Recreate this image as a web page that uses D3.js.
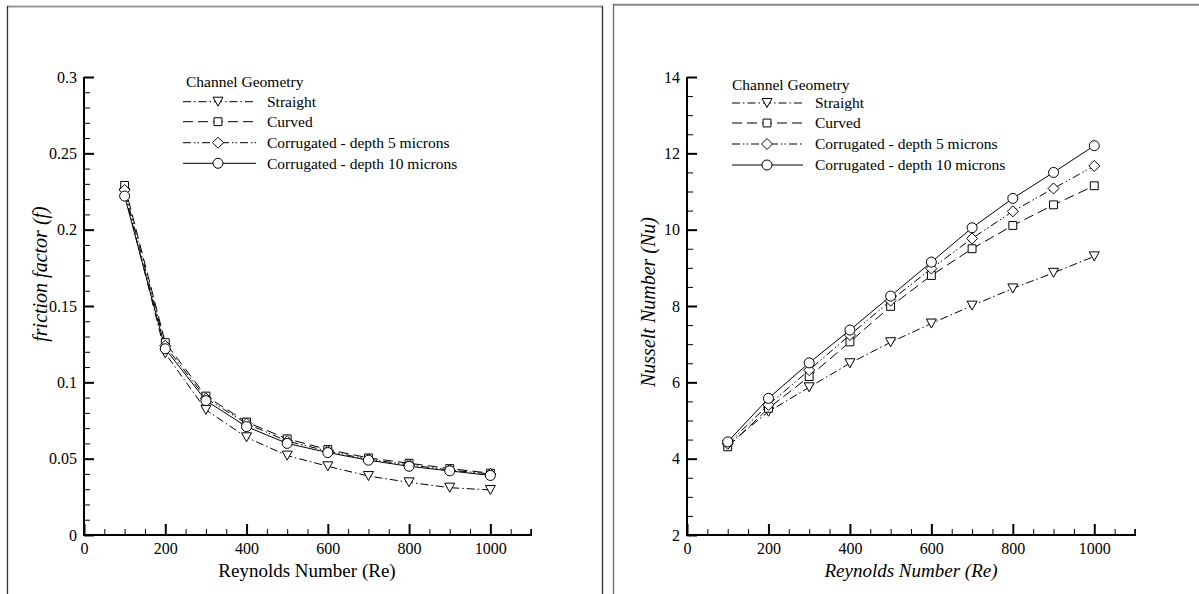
<!DOCTYPE html>
<html><head><meta charset="utf-8">
<script src="https://cdn.jsdelivr.net/npm/d3@7"></script>
<style>
html,body{margin:0;padding:0;background:#fff;}
svg{display:block;}
</style></head>
<body>
<svg id="chart" width="1199" height="594"></svg>
<script>
// ---------------- data ----------------
const reynolds = [100, 200, 300, 400, 500, 600, 700, 800, 900, 1000];
const seriesNames = ["Straight", "Curved", "Corrugated - depth 5 microns", "Corrugated - depth 10 microns"];
const legendTitle = "Channel Geometry";

const fStraight = [0.224, 0.119, 0.082, 0.064, 0.052, 0.045, 0.0386, 0.0345, 0.031, 0.0295];
const fCurved   = [0.229, 0.126, 0.091, 0.074, 0.063, 0.056, 0.0505, 0.047, 0.0435, 0.0405];
const fCorr5    = [0.226, 0.124, 0.0895, 0.073, 0.0615, 0.055, 0.0495, 0.046, 0.0425, 0.040];
const fCorr10   = [0.222, 0.122, 0.088, 0.071, 0.060, 0.054, 0.049, 0.045, 0.042, 0.039];

const nuStraight = [4.36, 5.23, 5.87, 6.50, 7.05, 7.54, 8.01, 8.46, 8.87, 9.30];
const nuCurved   = [4.31, 5.32, 6.15, 7.06, 7.99, 8.80, 9.50, 10.11, 10.65, 11.15];
const nuCorr5    = [4.39, 5.41, 6.32, 7.24, 8.14, 8.98, 9.77, 10.48, 11.08, 11.67];
const nuCorr10   = [4.44, 5.58, 6.51, 7.37, 8.26, 9.15, 10.05, 10.82, 11.50, 12.20];

const xMajorTicks = [0, 200, 400, 600, 800, 1000];
const xTickLabels = ["0", "200", "400", "600", "800", "1000"];
const fMajorTicks = [0, 0.05, 0.1, 0.15, 0.2, 0.25, 0.3];
const fTickLabels = ["0", "0.05", "0.1", "0.15", "0.2", "0.25", "0.3"];
const nuMajorTicks = [2, 4, 6, 8, 10, 12, 14];
const nuTickLabels = ["2", "4", "6", "8", "10", "12", "14"];

// ---------------- styles ----------------
const FONT = "'Liberation Serif', 'Times New Roman', serif";
const dashes = ["8,3,1.5,3", "10,5", "8,3,1.5,2,1.5,3", null];
const markers = ["triDown", "square", "diamond", "circle"];

const svg = d3.select("#chart");

// frames
svg.append("line").attr("x1", 7).attr("x2", 603).attr("y1", 6.5).attr("y2", 6.5).attr("stroke", "#999").attr("stroke-width", 2);
svg.append("line").attr("x1", 7.5).attr("x2", 7.5).attr("y1", 6).attr("y2", 594).attr("stroke", "#333").attr("stroke-width", 1.3);
svg.append("line").attr("x1", 602.5).attr("x2", 602.5).attr("y1", 6).attr("y2", 594).attr("stroke", "#333").attr("stroke-width", 1.3);
svg.append("line").attr("x1", 613).attr("x2", 1199).attr("y1", 4.8).attr("y2", 4.8).attr("stroke", "#888").attr("stroke-width", 2);
svg.append("line").attr("x1", 613.5).attr("x2", 613.5).attr("y1", 4).attr("y2", 594).attr("stroke", "#666").attr("stroke-width", 1.3);

function markerPath(type, size) {
  const s = size;
  if (type === "circle") return d3.symbol().type(d3.symbolCircle).size(Math.PI * s * s / 4)();
  if (type === "square") return d3.symbol().type(d3.symbolSquare).size(s * s * 0.62)();
  if (type === "diamond") {
    const h = s * 0.55;
    return `M0,${-h}L${h},0L0,${h}L${-h},0Z`;
  }
  if (type === "triDown") {
    const w = s * 0.5, h = s * 0.45;
    return `M${-w},${-h}L${w},${-h}L0,${h}Z`;
  }
}

function drawPanel(cfg) {
  const g = svg.append("g");
  const x = d3.scaleLinear().domain([0, 1100]).range([cfg.x0, cfg.x1]);
  const y = d3.scaleLinear().domain(cfg.yDomain).range([535, 77]);

  // minor ticks
  const xMinor = d3.range(0, 1101, 50).filter(v => v % 200 !== 0);
  g.append("g").attr("transform", `translate(0,${y.range()[0]})`)
    .call(d3.axisBottom(x).tickValues(xMinor).tickSize(-6).tickFormat(""))
    .call(a => a.select(".domain").remove())
    .selectAll("line").attr("stroke", "#000").attr("stroke-width", 1);
  const yMinor = d3.range(cfg.yDomain[0], cfg.yDomain[1] + 1e-9, cfg.minorStep)
    .filter(v => !cfg.majorTicks.some(m => Math.abs(m - v) < 1e-9));
  g.append("g").attr("transform", `translate(${cfg.x0},0)`)
    .call(d3.axisLeft(y).tickValues(yMinor).tickSize(-6).tickFormat(""))
    .call(a => a.select(".domain").remove())
    .selectAll("line").attr("stroke", "#000").attr("stroke-width", 1);

  // major ticks + labels
  const gx = g.append("g").attr("transform", `translate(0,${y.range()[0]})`)
    .call(d3.axisBottom(x).tickValues(xMajorTicks).tickSize(-11).tickPadding(8).tickSizeOuter(0)
      .tickFormat((d, i) => xTickLabels[i]));
  gx.select(".domain").remove();
  gx.selectAll("line").attr("stroke", "#000").attr("stroke-width", 2);
  gx.selectAll("text").attr("font-family", FONT).attr("font-size", 16).attr("fill", "#000");

  const gy = g.append("g").attr("transform", `translate(${cfg.x0},0)`)
    .call(d3.axisLeft(y).tickValues(cfg.majorTicks).tickSize(-10).tickPadding(7)
      .tickFormat((d, i) => cfg.tickLabels[i]));
  gy.select(".domain").remove();
  gy.selectAll("line").attr("stroke", "#000").attr("stroke-width", 2);
  gy.selectAll("text").attr("font-family", FONT).attr("font-size", 16).attr("fill", "#000");

  // spines
  g.append("line").attr("x1", cfg.x0).attr("x2", cfg.x1 + 1).attr("y1", y.range()[0]).attr("y2", y.range()[0])
    .attr("stroke", "#000").attr("stroke-width", 2);
  g.append("line").attr("x1", cfg.x0).attr("x2", cfg.x0).attr("y1", y.range()[0] + 1).attr("y2", y.range()[1])
    .attr("stroke", "#000").attr("stroke-width", 2);
  g.append("line").attr("x1", cfg.x1).attr("x2", cfg.x1).attr("y1", y.range()[0]).attr("y2", y.range()[0] - 6)
    .attr("stroke", "#000").attr("stroke-width", 1.5);

  // axis titles
  g.append("text").attr("x", cfg.xTitleX).attr("y", 577).attr("text-anchor", "middle")
    .attr("font-family", FONT).attr("font-size", 19).attr("font-style", cfg.xTitleItalic ? "italic" : "normal")
    .text("Reynolds Number (Re)");
  g.append("text").attr("transform", `translate(${cfg.yTitleX},${cfg.yTitleY}) rotate(-90)`)
    .attr("text-anchor", "middle").attr("dy", "0.35em")
    .attr("font-family", FONT).attr("font-size", 20).attr("font-style", "italic")
    .text(cfg.yTitle);

  // series
  const line = d3.line().x((d, i) => x(reynolds[i])).y(d => y(d));
  cfg.series.forEach((vals, si) => {
    g.append("path").attr("d", line(vals)).attr("fill", "none").attr("stroke", "#000")
      .attr("stroke-width", 1).attr("stroke-dasharray", dashes[si]);
  });
  cfg.series.forEach((vals, si) => {
    g.selectAll(null).data(vals).enter().append("path")
      .attr("d", markerPath(markers[si], 10))
      .attr("transform", (d, i) => `translate(${x(reynolds[i])},${y(d)})`)
      .attr("fill", "#fff").attr("stroke", "#000").attr("stroke-width", 1);
  });

  // legend
  const L = cfg.legend;
  g.append("text").attr("x", L.titleX).attr("y", L.titleY).attr("dy", "0.35em")
    .attr("font-family", FONT).attr("font-size", 15.5).text(legendTitle);
  seriesNames.forEach((name, si) => {
    const ly = L.rows[si];
    g.append("line").attr("x1", L.lx0).attr("x2", L.lx1).attr("y1", ly).attr("y2", ly)
      .attr("stroke", "#000").attr("stroke-width", 1).attr("stroke-dasharray", dashes[si]);
    g.append("path").attr("d", markerPath(markers[si], 10))
      .attr("transform", `translate(${L.mx},${ly})`)
      .attr("fill", "#fff").attr("stroke", "#000").attr("stroke-width", 1);
    g.append("text").attr("x", L.tx).attr("y", ly).attr("dy", "0.35em")
      .attr("font-family", FONT).attr("font-size", 15.5).text(name);
  });
}

drawPanel({
  x0: 84, x1: 531, yDomain: [0, 0.3], majorTicks: fMajorTicks, tickLabels: fTickLabels, minorStep: 0.01,
  xTitleX: 307, xTitleItalic: false, yTitle: "friction factor (f)", yTitleX: 40, yTitleY: 274,
  series: [fStraight, fCurved, fCorr5, fCorr10],
  legend: { titleX: 186, titleY: 82, rows: [101.7, 121.7, 142.7, 163.3], lx0: 183, lx1: 256, mx: 218, tx: 267 }
});
drawPanel({
  x0: 687, x1: 1135, yDomain: [2, 14], majorTicks: nuMajorTicks, tickLabels: nuTickLabels, minorStep: 0.5,
  xTitleX: 911, xTitleItalic: true, yTitle: "Nusselt Number (Nu)", yTitleX: 648, yTitleY: 302,
  series: [nuStraight, nuCurved, nuCorr5, nuCorr10],
  legend: { titleX: 732, titleY: 85, rows: [103, 123, 144, 165], lx0: 732, lx1: 803, mx: 767, tx: 815 }
});
</script>
</body></html>
